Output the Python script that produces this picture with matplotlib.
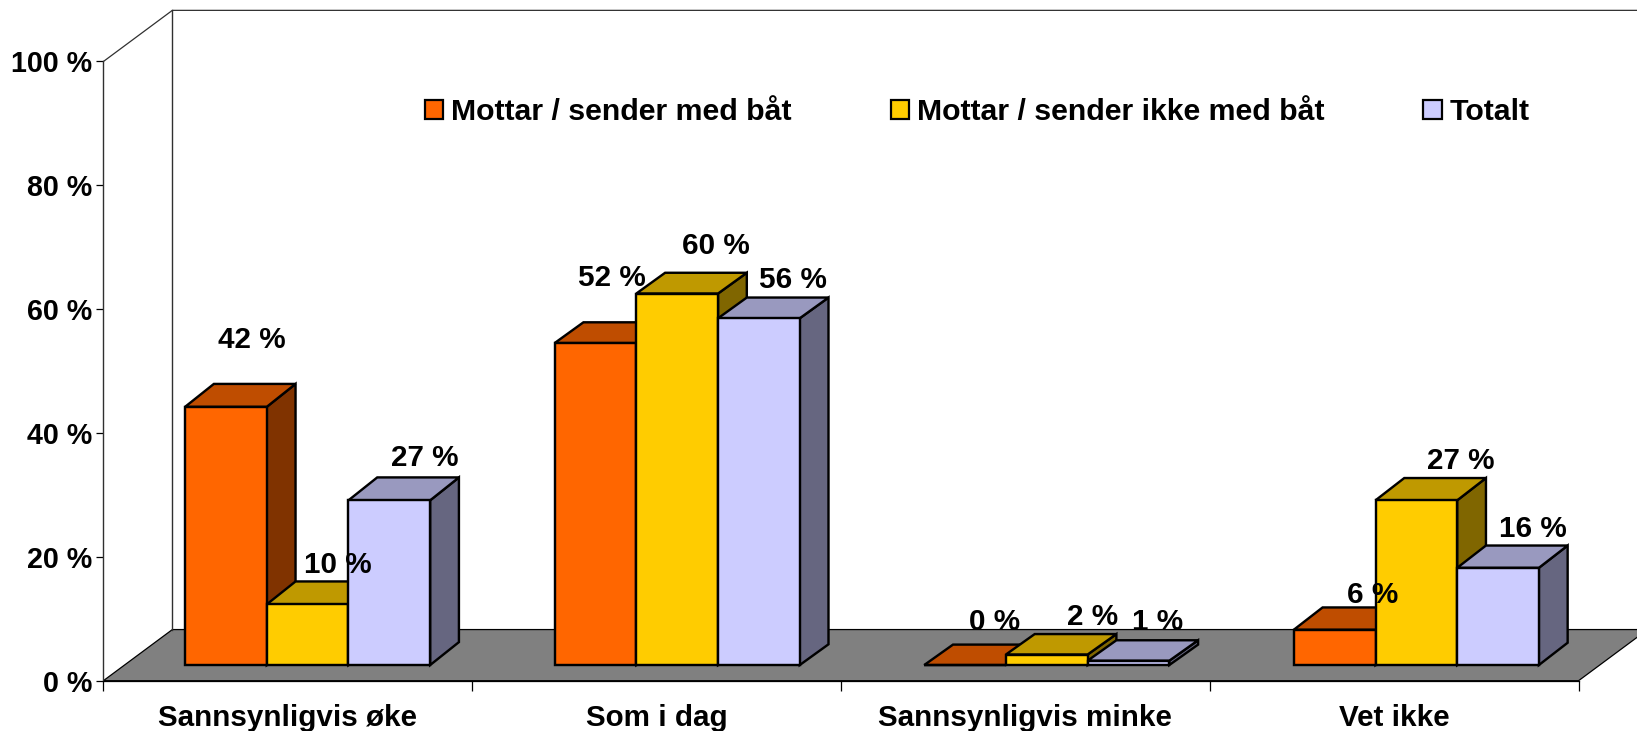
#! /usr/bin/env python3
import matplotlib
matplotlib.use('Agg')
import matplotlib.pyplot as plt
from matplotlib.patches import Polygon, Patch

plt.rcParams['font.family'] = ['Liberation Sans', 'DejaVu Sans']
plt.rcParams['font.weight'] = 'bold'

categories = ['Sannsynligvis øke', 'Som i dag', 'Sannsynligvis minke', 'Vet ikke']
series_names = ['Mottar / sender med båt', 'Mottar / sender ikke med båt', 'Totalt']
med_baat = [41.7, 52, 0, 5.7]
ikke_med_baat = [9.8, 60, 1.7, 26.6]
totalt = [26.6, 56, 0.7, 15.7]
yticks = [0, 20, 40, 60, 80, 100]

front_colors = ['#FF6600', '#FFCC00', '#CCCCFF']
top_colors = ['#BF4D00', '#BF9900', '#9999BF']
side_colors = ['#803300', '#806600', '#666680']

# label shift from the bar's top centre, in pixels, one row per series
label_dx = [[26, 16, 29, 38], [30, 39, 46, 44], [35, 34, 29, 35]]
label_dy = [[67, 65, 43, 35], [39, 48, 38, 39], [42, 38, 39, 39]]

W, H = 1637, 731
fig = plt.figure(figsize=(W / 100, H / 100), dpi=100)
ax = fig.add_axes([103.4 / W, 50.3 / H, (1578.6 - 103.4) / W, (669.5 - 50.3) / H])
ax.set_xlim(0, 4)
ax.set_ylim(0, 100)

# depth of the chart floor and of the bars, in data units
wall_dx, wall_dy = 0.187, 8.26
bar_dx = 0.078
bar_dy = [3.7, 3.35, 3.3, 3.6]
base = 2.53
bar_w = 0.2215
first = 0.2215
pitch = 1.0021
edge = 'black'


def poly(pts, color, lw=2.4 * 0.72, z=3):
    ax.add_patch(Polygon(pts, closed=True, facecolor=color, edgecolor=edge, linewidth=lw,
                         joinstyle='miter', clip_on=False, zorder=z))


# floor and back wall
poly([(0, 0), (4, 0), (4 + wall_dx, wall_dy), (wall_dx, wall_dy)], '#808080', lw=0.9, z=1)
ax.plot([0, wall_dx, 4 + wall_dx], [100, 100 + wall_dy, 100 + wall_dy], color='#303030', lw=0.9, clip_on=False, zorder=1)
ax.plot([wall_dx, wall_dx], [wall_dy, 100 + wall_dy], color='#303030', lw=1.0, clip_on=False, zorder=1)

z = 3
for i in range(len(categories)):
    dy = bar_dy[i]
    for s, vals in enumerate([med_baat, ikke_med_baat, totalt]):
        x0 = i * pitch + first + s * bar_w
        x1 = x0 + bar_w
        top = base + vals[i]
        poly([(x1, base), (x1 + bar_dx, base + dy), (x1 + bar_dx, top + dy), (x1, top)], side_colors[s], z=z)
        poly([(x0, top), (x1, top), (x1 + bar_dx, top + dy), (x0 + bar_dx, top + dy)], top_colors[s], z=z)
        poly([(x0, base), (x1, base), (x1, top), (x0, top)], front_colors[s], z=z)
        z += 1
        ax.annotate('%.0f %%' % vals[i], xy=((x0 + x1) / 2, top),
                    xytext=(label_dx[s][i], label_dy[s][i]), textcoords='offset pixels',
                    ha='center', va='center', fontsize=21.3, fontweight='bold', zorder=50,
                    annotation_clip=False)

for name in ['top', 'right']:
    ax.spines[name].set_visible(False)
ax.spines['left'].set_linewidth(1.0)
ax.spines['left'].set_color('#303030')
ax.spines['bottom'].set_linewidth(0.9)
ax.patch.set_alpha(0)

ax.set_yticks(yticks)
ax.set_yticklabels(['%d %%' % v for v in yticks], fontsize=20.6, fontweight='bold')
ax.tick_params(axis='y', length=5, width=0.9, pad=3)
ax.set_xticks(range(len(categories) + 1))
ax.set_xticklabels([''] * (len(categories) + 1))
ax.set_xticks([i + 0.5 for i in range(len(categories))], minor=True)
ax.set_xticklabels(categories, minor=True, fontsize=21.3, fontweight='bold')
ax.tick_params(axis='x', which='major', length=7, width=0.9)
ax.tick_params(axis='x', which='minor', length=0, pad=16.5)

handles = [Patch(facecolor=c, edgecolor='black', linewidth=1.6) for c in front_colors]
ax.legend(handles, series_names, ncol=3, frameon=False, fontsize=21.8, loc='center left',
          bbox_to_anchor=(0.2178, 0.918), handlelength=0.6, handleheight=0.6, handletextpad=0.27,
          columnspacing=3.27, borderpad=0, borderaxespad=0)

fig.savefig('out.png', dpi=100)
